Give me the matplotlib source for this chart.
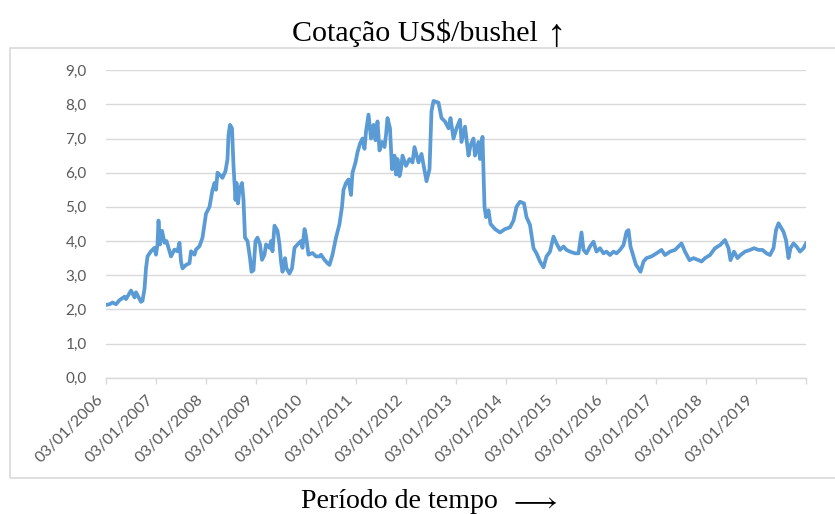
import matplotlib
matplotlib.use("Agg")
import matplotlib.pyplot as plt
from matplotlib.patches import Rectangle

plt.rcParams["mathtext.fontset"] = "stix"

# Decimal-year positions and price (US$/bushel)
years = [
    2006.00, 2006.07, 2006.13, 2006.20, 2006.27, 2006.37, 2006.40, 2006.50, 2006.57, 2006.60,
    2006.67, 2006.70, 2006.73, 2006.77, 2006.80, 2006.83, 2006.90, 2006.97, 2007.00, 2007.03,
    2007.05, 2007.08, 2007.12, 2007.17, 2007.21, 2007.27, 2007.30, 2007.37, 2007.43, 2007.47,
    2007.50, 2007.53, 2007.60, 2007.67, 2007.70, 2007.77, 2007.80, 2007.87, 2007.93, 2008.00,
    2008.07, 2008.13, 2008.17, 2008.20, 2008.23, 2008.30, 2008.33, 2008.39, 2008.43, 2008.45,
    2008.48, 2008.52, 2008.55, 2008.59, 2008.61, 2008.64, 2008.67, 2008.72, 2008.75, 2008.78,
    2008.83, 2008.88, 2008.91, 2008.95, 2008.99, 2009.03, 2009.08, 2009.12, 2009.17, 2009.20,
    2009.27, 2009.30, 2009.33, 2009.37, 2009.43, 2009.47, 2009.50, 2009.53, 2009.58, 2009.61,
    2009.67, 2009.72, 2009.77, 2009.83, 2009.90, 2009.93, 2009.97, 2010.00, 2010.05, 2010.13,
    2010.20, 2010.27, 2010.30, 2010.37, 2010.43, 2010.47, 2010.53, 2010.60, 2010.67, 2010.72,
    2010.75, 2010.80, 2010.85, 2010.90, 2010.93, 2010.99, 2011.03, 2011.08, 2011.13, 2011.17,
    2011.20, 2011.25, 2011.30, 2011.35, 2011.39, 2011.43, 2011.47, 2011.52, 2011.57, 2011.60,
    2011.63, 2011.68, 2011.72, 2011.77, 2011.80, 2011.83, 2011.87, 2011.90, 2011.93, 2012.00,
    2012.07, 2012.13, 2012.17, 2012.25, 2012.31, 2012.38, 2012.41, 2012.47, 2012.51, 2012.55,
    2012.65, 2012.71, 2012.78, 2012.85, 2012.89, 2012.95, 2013.01, 2013.08, 2013.11, 2013.18,
    2013.25, 2013.29, 2013.35, 2013.38, 2013.45, 2013.48, 2013.53, 2013.57, 2013.60, 2013.65,
    2013.69, 2013.78, 2013.88, 2013.98, 2014.08, 2014.15, 2014.21, 2014.28, 2014.36, 2014.41,
    2014.48, 2014.55, 2014.61, 2014.68, 2014.75, 2014.81, 2014.88, 2014.95, 2015.01, 2015.08,
    2015.15, 2015.21, 2015.28, 2015.38, 2015.45, 2015.51, 2015.55, 2015.61, 2015.68, 2015.75,
    2015.81, 2015.88, 2015.95, 2016.01, 2016.08, 2016.15, 2016.21, 2016.28, 2016.35, 2016.41,
    2016.45, 2016.49, 2016.55, 2016.60, 2016.65, 2016.69, 2016.75, 2016.81, 2016.91, 2017.01,
    2017.11, 2017.18, 2017.28, 2017.38, 2017.45, 2017.51, 2017.58, 2017.67, 2017.75, 2017.85,
    2017.91, 2017.98, 2018.08, 2018.18, 2018.28, 2018.38, 2018.45, 2018.49, 2018.56, 2018.63,
    2018.69, 2018.78, 2018.88, 2018.96, 2019.05, 2019.13, 2019.21, 2019.28, 2019.35, 2019.40,
    2019.45, 2019.49, 2019.55, 2019.60, 2019.65, 2019.69, 2019.75, 2019.81, 2019.88, 2019.95,
    2020.00,
]
prices = [
    2.13, 2.15, 2.20, 2.15, 2.27, 2.37, 2.30, 2.55, 2.35, 2.50,
    2.30, 2.22, 2.25, 2.60, 3.20, 3.55, 3.70, 3.80, 3.60, 3.90,
    4.60, 3.90, 4.30, 3.95, 4.00, 3.70, 3.55, 3.75, 3.70, 3.95,
    3.40, 3.20, 3.30, 3.35, 3.70, 3.60, 3.75, 3.85, 4.10, 4.80,
    5.00, 5.50, 5.70, 5.50, 6.00, 5.90, 5.85, 6.05, 6.40, 7.10,
    7.40, 7.30, 6.20, 5.20, 5.70, 5.10, 5.50, 5.70, 5.20, 4.10,
    4.00, 3.50, 3.10, 3.15, 4.00, 4.10, 3.90, 3.45, 3.60, 3.90,
    3.80, 4.00, 3.70, 4.45, 4.30, 3.90, 3.40, 3.10, 3.50, 3.20,
    3.05, 3.20, 3.80, 3.90, 4.00, 3.80, 4.35, 4.15, 3.60, 3.65,
    3.55, 3.55, 3.60, 3.45, 3.35, 3.30, 3.60, 4.10, 4.50, 5.00,
    5.50, 5.70, 5.80, 5.35, 6.00, 6.30, 6.60, 6.85, 7.00, 6.70,
    7.20, 7.70, 7.00, 7.40, 6.95, 7.50, 6.65, 6.90, 6.75, 7.10,
    7.60, 7.30, 6.10, 6.50, 5.95, 6.40, 5.90, 6.10, 6.50, 6.20,
    6.40, 6.30, 6.75, 6.30, 6.55, 6.00, 5.75, 6.10, 7.80, 8.10,
    8.05, 7.60, 7.50, 7.30, 7.60, 7.00, 7.30, 7.55, 6.90, 7.35,
    6.50, 6.80, 7.00, 6.50, 6.90, 6.40, 7.05, 5.00, 4.70, 4.90,
    4.50, 4.35, 4.25, 4.35, 4.40, 4.60, 5.00, 5.15, 5.10, 4.70,
    4.47, 3.79, 3.64, 3.40, 3.23, 3.55, 3.69, 4.13, 3.93, 3.74,
    3.84, 3.74, 3.69, 3.64, 3.64, 4.25, 3.74, 3.64, 3.84, 3.98,
    3.69, 3.79, 3.64, 3.69, 3.59, 3.69, 3.64, 3.74, 3.88, 4.27,
    4.32, 3.84, 3.55, 3.30, 3.20, 3.10, 3.40, 3.50, 3.55, 3.64,
    3.74, 3.59, 3.69, 3.74, 3.84, 3.93, 3.69, 3.44, 3.50, 3.44,
    3.40, 3.50, 3.59, 3.79, 3.88, 4.03, 3.79, 3.44, 3.69, 3.50,
    3.59, 3.69, 3.74, 3.79, 3.74, 3.74, 3.64, 3.59, 3.79, 4.32,
    4.52, 4.42, 4.27, 4.03, 3.50, 3.79, 3.93, 3.84, 3.69, 3.79,
    3.93,
]
tick_years = list(range(2006, 2020))
tick_labels = [f"03/01/{y}" for y in tick_years]
y_ticks = [0, 1, 2, 3, 4, 5, 6, 7, 8, 9]
y_tick_labels = [f"{v},0" for v in y_ticks]
title_text = "Cotação US$/bushel"
title_arrow = "↑"
xlabel_text = "Período de tempo"
xlabel_arrow = r"$\longrightarrow$"

W, H = 835, 514
fig = plt.figure(figsize=(W / 100, H / 100), dpi=100)
renderer = fig.canvas.get_renderer()

# outer chart-area border (Excel style)
fig.patches.append(Rectangle((10 / W, 1 - 478 / H), (W - 10) / W + 0.01, (478 - 47.5) / H,
                             transform=fig.transFigure, fill=False,
                             edgecolor="#d9d9d9", linewidth=1.2))

ax = fig.add_axes([106 / W, 1 - 377.7 / H, 700 / W, (377.7 - 70.2) / H])
ax.plot(years, prices, color="#5b9bd5", linewidth=2.7, solid_joinstyle="round")
ax.set_xlim(2006, 2020)
ax.set_ylim(0, 9)
ax.set_yticks(y_ticks)
ax.set_yticklabels(y_tick_labels)
ax.set_xticks(tick_years + [2020])
ax.set_xticklabels(tick_labels + [""])
ax.grid(axis="y", color="#d9d9d9", linewidth=1.0)
ax.set_axisbelow(True)
for s in ["top", "right", "left"]:
    ax.spines[s].set_visible(False)
ax.spines["bottom"].set_color("#d9d9d9")
ax.spines["bottom"].set_linewidth(1.0)
ax.tick_params(axis="y", length=0, pad=14, labelsize=11, labelcolor="#595959")
ax.tick_params(axis="x", length=4.5, width=1.0, color="#d9d9d9", pad=6,
               labelsize=11.5, labelcolor="#595959")
for lab in ax.get_yticklabels() + ax.get_xticklabels():
    lab.set_fontfamily("Lato")
for lab in ax.get_xticklabels():
    lab.set_rotation(45)
    lab.set_ha("right")
    lab.set_va("top")

serif = ["Liberation Serif", "DejaVu Serif"]


def fitted_text(x_left, y, text, width_px, family, size=22.5, va="baseline"):
    t = fig.text(x_left / W, 1 - y / H, text, ha="left", va=va,
                 fontsize=size, family=family, color="black")
    w = t.get_window_extent(renderer).width
    t.set_fontsize(size * width_px / w)
    return t


fitted_text(292, 40.7, title_text, 246, serif)
fig.text(547 / W, 1 - 45.5 / H, title_arrow, ha="left", va="baseline",
         fontsize=28, family=serif, color="black")

fitted_text(300.7, 507.5, xlabel_text, 197, serif)
fitted_text(509, 501.7, xlabel_arrow, 48, serif, size=22, va="center")

fig.savefig("out.png", dpi=100)
